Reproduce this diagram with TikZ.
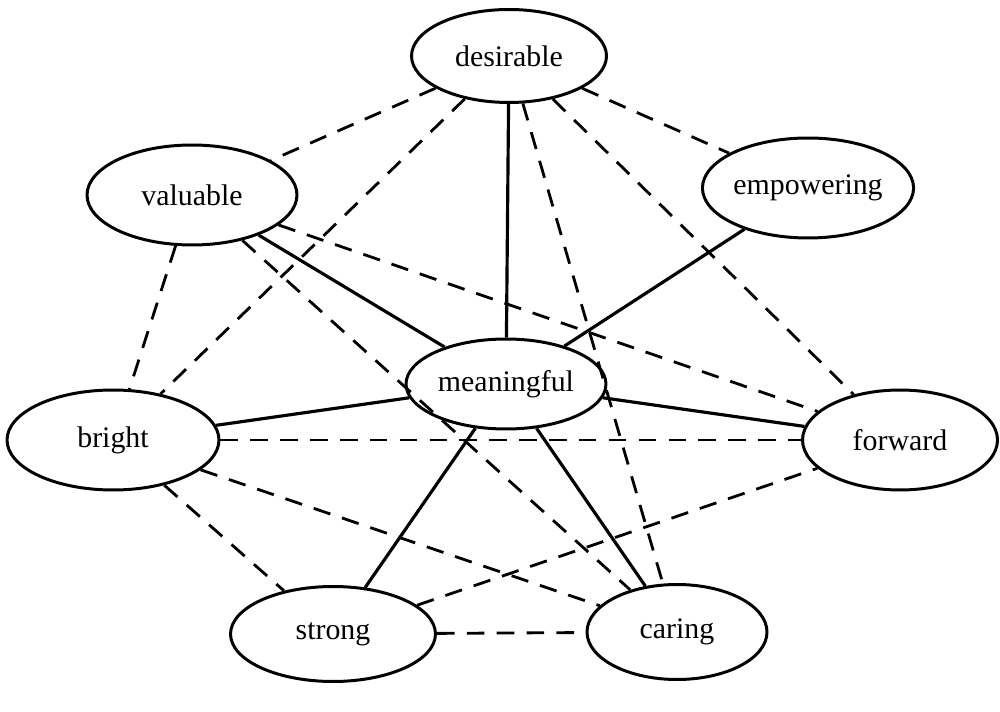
\documentclass[tikz,border=0pt]{standalone}
\usepackage{fontspec}
\setmainfont{Liberation Serif}
\usetikzlibrary{shapes.geometric}

\begin{document}
\begin{tikzpicture}[x=0.02cm, y=-0.02cm,
		word/.style={ellipse, draw, line width=1.7pt, inner sep=0pt, fill=white,
			font=\fontsize{17}{20}\selectfont},
		tie/.style={line width=1.8pt},
		weak/.style={line width=1.6pt, dash pattern=on 10pt off 7pt}]

		\useasboundingbox (0,0) rectangle (1000,712);

		% the eight words
		\node[word, minimum width=3.9cm, minimum height=1.86cm] (desirable) at (509,56) {desirable};
		\node[word, minimum width=4.2cm, minimum height=2cm] (valuable) at (192,195) {valuable};
		\node[word, minimum width=3.9cm, minimum height=2cm] (empowering) at (808,188) {empowering};
		\node[word, minimum width=4cm, minimum height=1.8cm] (meaningful) at (506,384) {meaningful};
		\node[word, minimum width=4.24cm, minimum height=2cm] (bright) at (113,440) {bright};
		\node[word, minimum width=3.9cm, minimum height=2cm] (forward) at (900,440) {forward};
		\node[word, minimum width=4.1cm, minimum height=1.9cm] (strong) at (333,634) {strong};
		\node[word, minimum width=3.6cm, minimum height=1.9cm] (caring) at (677,632) {caring};

		% dashed links
		\draw[weak] (desirable) -- (valuable);
		\draw[weak] (desirable) -- (empowering);
		\draw[weak] (desirable) -- (bright);
		\draw[weak] (desirable) -- (caring);
		\draw[weak] (desirable) -- (forward);
		\draw[weak] (valuable) -- (bright);
		\draw[weak] (valuable) -- (forward);
		\draw[weak] (valuable) -- (caring);
		\draw[weak] (bright) -- (forward);
		\draw[weak] (bright) -- (caring);
		\draw[weak] (bright) -- (strong);
		\draw[weak] (strong) -- (forward);
		\draw[weak] (strong) -- (caring);

		% solid links from the centre
		\foreach \w in {desirable, valuable, empowering, bright, forward, strong, caring}
			\draw[tie] (meaningful) -- (\w);

\end{tikzpicture}
\end{document}
